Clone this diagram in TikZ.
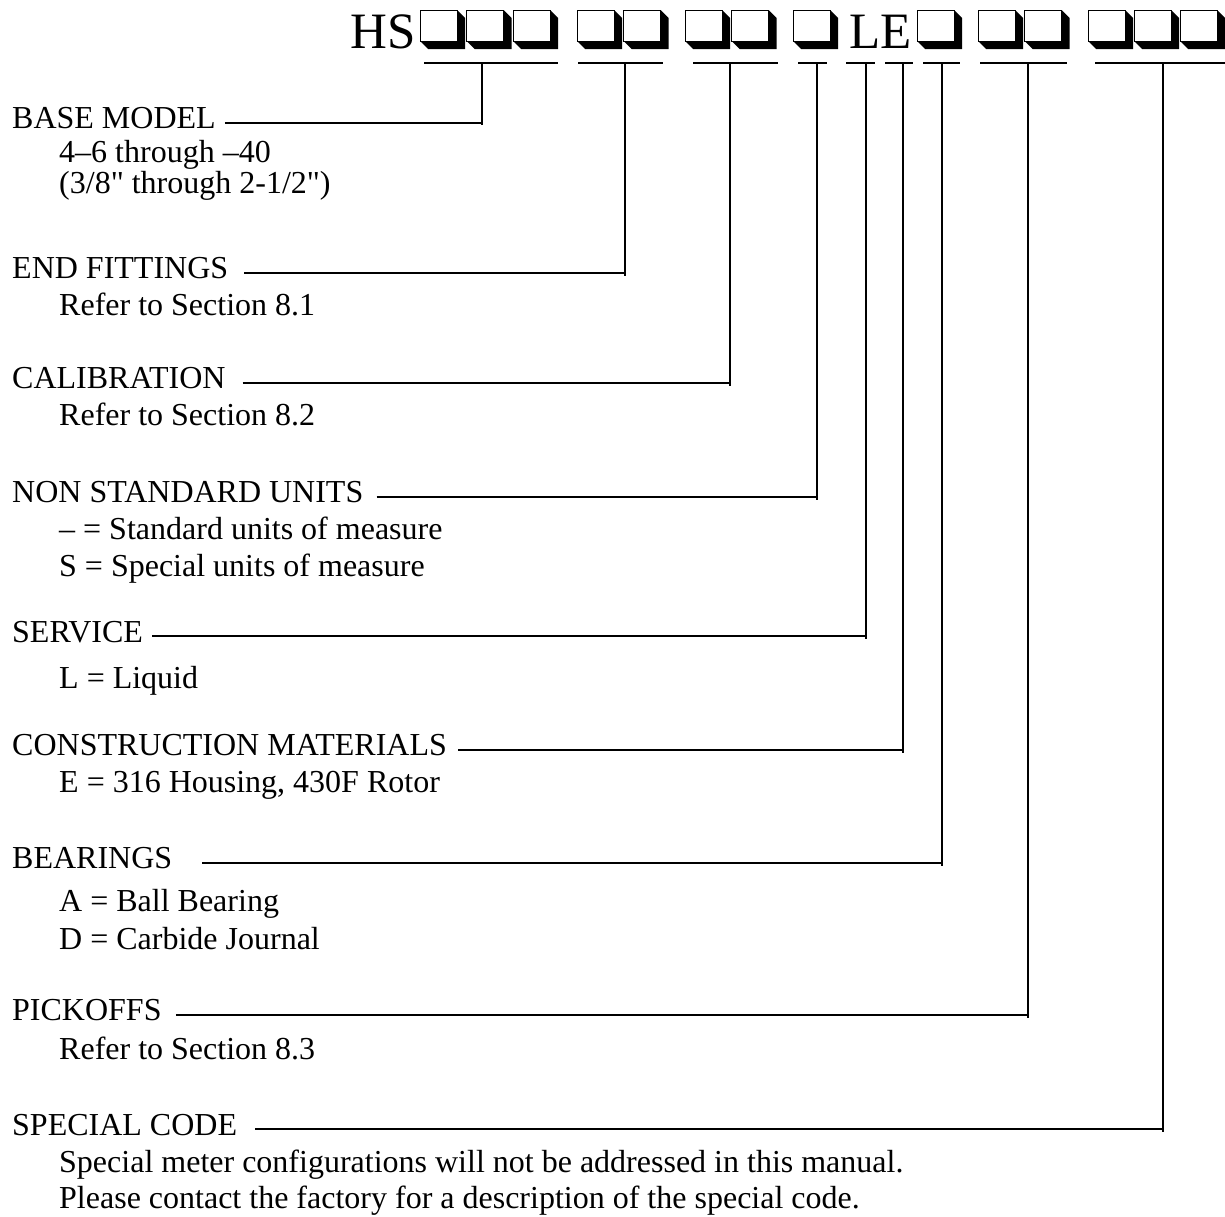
\documentclass[tikz,border=0pt]{standalone}
\usepackage{fontspec}
\newfontfamily\codefont{Liberation Serif}

\begin{document}
\begin{tikzpicture}[x=1pt, y=-1pt,
  ttl/.style={font=\codefont\fontsize{51}{60}\selectfont, inner sep=0pt, anchor=base west},
  hdr/.style={font=\codefont\fontsize{32}{36}\selectfont, inner sep=0pt, anchor=base west},
  sq/.style={draw, fill=white, line width=0.8pt, inner sep=0pt, outer sep=0pt,
             minimum width=37pt, minimum height=31pt, anchor=north west},
  bar/.style={line width=2.2pt},
  lead/.style={line width=2.2pt}]
\useasboundingbox (0,0) rectangle (1225,1216);
% model code
\node[ttl] (hs) at (350,48) {HS};
\node[ttl] (le) at (849,48) {LE};
\node[sq] (base1) at (420,10) {}; \node[sq] (base2) at (466.5,10) {}; \node[sq] (base3) at (513,10) {};
\node[sq] (fit1) at (577,10) {};  \node[sq] (fit2) at (623.5,10) {};
\node[sq] (cal1) at (685,10) {};  \node[sq] (cal2) at (731.5,10) {};
\node[sq] (units1) at (793,10) {};
\node[sq] (brg1) at (917,10) {};
\node[sq] (pick1) at (978,10) {}; \node[sq] (pick2) at (1024.5,10) {};
\node[sq] (spec1) at (1088,10) {}; \node[sq] (spec2) at (1134,10) {}; \node[sq] (spec3) at (1180,10) {};
\foreach \s in {base1,base2,base3,fit1,fit2,cal1,cal2,units1,brg1,pick1,pick2,spec1,spec2,spec3}
  \fill (\s.north east) -- ++(8,8) -- ++(0,31) -- ++(-37,0) -- (\s.south west) -- (\s.south east) -- cycle;
% underlines
\draw[bar] (424,63) -- (558,63);   \coordinate (tbase) at (482,63);
\draw[bar] (578,63) -- (663,63);   \coordinate (tfit) at (625,63);
\draw[bar] (693,63) -- (778,63);   \coordinate (tcal) at (730,63);
\draw[bar] (798,63) -- (827,63);   \coordinate (tunits) at (817,63);
\draw[bar] (846,63) -- (875,63);   \coordinate (tserv) at (866,63);
\draw[bar] (885,63) -- (913,63);   \coordinate (tmat) at (903,63);
\draw[bar] (923,63) -- (960,63);   \coordinate (tbrg) at (942,63);
\draw[bar] (980,63) -- (1067,63);  \coordinate (tpick) at (1028,63);
\draw[bar] (1095,63) -- (1225,63); \coordinate (tspec) at (1163,63);
% fields
\node[hdr] (base) at (12,128) {BASE MODEL};
\node[hdr] (base-a) at (59,162) {4–6 through –40};
\node[hdr] (base-b) at (59,193) {(3/8" through 2-1/2")};
\node[hdr] (fit) at (12,278) {END FITTINGS};
\node[hdr] (fit-a) at (59,315) {Refer to Section 8.1};
\node[hdr] (cal) at (12,388) {CALIBRATION};
\node[hdr] (cal-a) at (59,425) {Refer to Section 8.2};
\node[hdr] (units) at (12,502) {NON STANDARD UNITS};
\node[hdr] (units-a) at (59,539) {– = Standard units of measure};
\node[hdr] (units-b) at (59,576) {S = Special units of measure};
\node[hdr] (serv) at (12,642) {SERVICE};
\node[hdr] (serv-a) at (59,688) {L = Liquid};
\node[hdr] (mat) at (12,755) {CONSTRUCTION MATERIALS};
\node[hdr] (mat-a) at (59,792) {E = 316 Housing, 430F Rotor};
\node[hdr] (brg) at (12,868) {BEARINGS};
\node[hdr] (brg-a) at (59,911) {A = Ball Bearing};
\node[hdr] (brg-b) at (59,949) {D = Carbide Journal};
\node[hdr] (pick) at (12,1020) {PICKOFFS};
\node[hdr] (pick-a) at (59,1059) {Refer to Section 8.3};
\node[hdr] (spec) at (12,1135) {SPECIAL CODE};
\node[hdr] (spec-a) at (59,1172) {Special meter configurations will not be addressed in this manual.};
\node[hdr] (spec-b) at (59,1208) {Please contact the factory for a description of the special code.};
% leaders
\draw[lead] ([shift={(9pt,5pt)}]base.base east) coordinate (lbase) -- (tbase |- lbase) (tbase) -- ([yshift=-2pt]tbase |- lbase);
\draw[lead] ([shift={(16pt,5pt)}]fit.base east) coordinate (lfit) -- (tfit |- lfit) (tfit) -- ([yshift=-3pt]tfit |- lfit);
\draw[lead] ([shift={(17pt,5pt)}]cal.base east) coordinate (lcal) -- (tcal |- lcal) (tcal) -- ([yshift=-3pt]tcal |- lcal);
\draw[lead] ([shift={(13pt,5pt)}]units.base east) coordinate (lunits) -- (tunits |- lunits) (tunits) -- ([yshift=-3pt]tunits |- lunits);
\draw[lead] ([shift={(9pt,6pt)}]serv.base east) coordinate (lserv) -- (tserv |- lserv) (tserv) -- ([yshift=-3pt]tserv |- lserv);
\draw[lead] ([shift={(11pt,5pt)}]mat.base east) coordinate (lmat) -- (tmat |- lmat) (tmat) -- ([yshift=-3pt]tmat |- lmat);
\draw[lead] ([shift={(30pt,5pt)}]brg.base east) coordinate (lbrg) -- (tbrg |- lbrg) (tbrg) -- ([yshift=-3pt]tbrg |- lbrg);
\draw[lead] ([shift={(14pt,5pt)}]pick.base east) coordinate (lpick) -- (tpick |- lpick) (tpick) -- ([yshift=-3pt]tpick |- lpick);
\draw[lead] ([shift={(18pt,6pt)}]spec.base east) coordinate (lspec) -- (tspec |- lspec) (tspec) -- ([yshift=-3pt]tspec |- lspec);
\end{tikzpicture}
\end{document}
